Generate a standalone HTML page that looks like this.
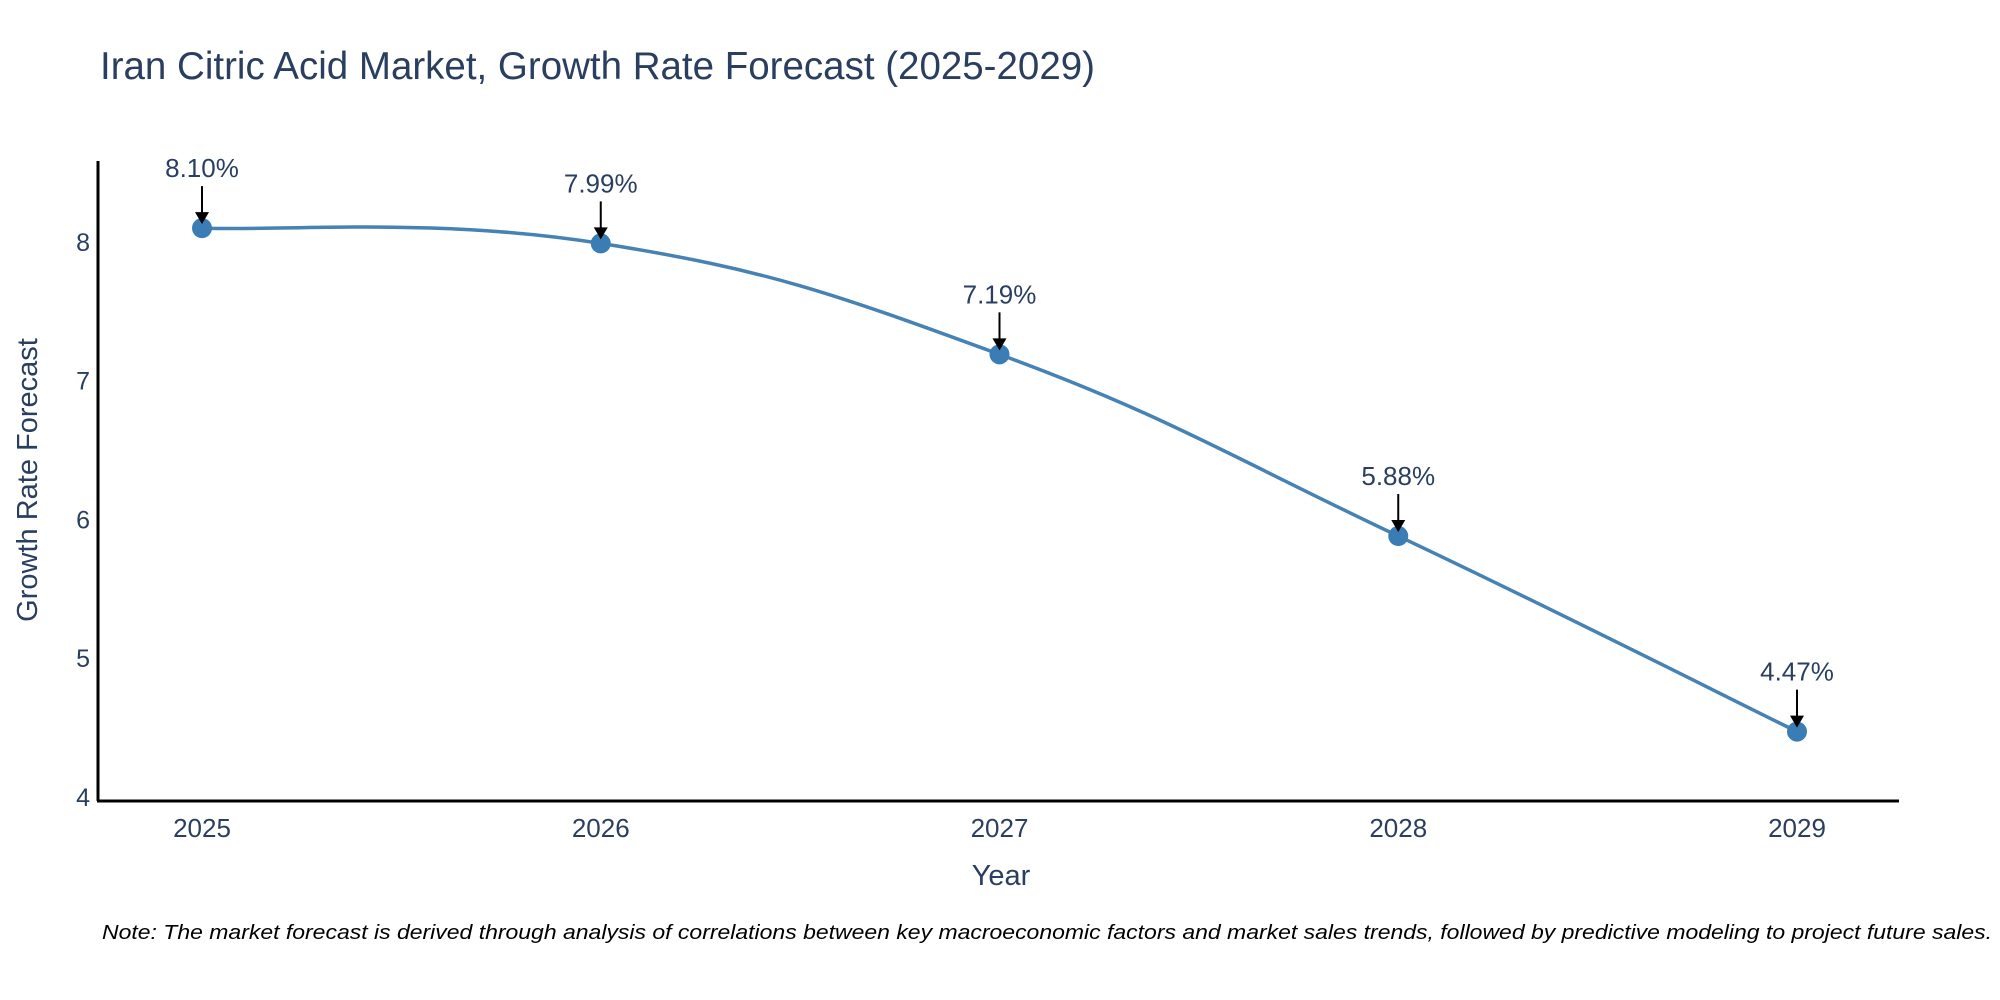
<!DOCTYPE html>
<html><head><meta charset="utf-8"><style>
html,body{margin:0;padding:0;background:#fff;}
svg{display:block;font-family:"Liberation Sans",sans-serif;}
</style></head><body>
<svg id="chart" width="2000" height="1000">
<text x="100" y="79" font-size="38.5" fill="#2a3f5f">Iran Citric Acid Market, Growth Rate Forecast (2025-2029)</text>
<g id="yticks"></g><g id="xticks"></g>
<path id="line" fill="none" stroke="#4682b4" stroke-width="3.5"></path>
<g id="marks"></g>
<line x1="98" y1="161" x2="98" y2="801" stroke="#000" stroke-width="3"/>
<line x1="97" y1="801" x2="1899" y2="801" stroke="#000" stroke-width="3"/>
<text x="1001" y="885" font-size="29" fill="#2a3f5f" text-anchor="middle">Year</text>
<text transform="translate(37,480) rotate(-90)" font-size="29" fill="#2a3f5f" text-anchor="middle">Growth Rate Forecast</text>
<text x="102" y="939" font-size="20" font-style="italic" fill="#000" textLength="1890" lengthAdjust="spacingAndGlyphs">Note: The market forecast is derived through analysis of correlations between key macroeconomic factors and market sales trends, followed by predictive modeling to project future sales.</text>
</svg>
<script>
const years = ["2025","2026","2027","2028","2029"];
const values = [8.10, 7.99, 7.19, 5.88, 4.47];
const labels = ["8.10%","7.99%","7.19%","5.88%","4.47%"];
const yTicks = [4,5,6,7,8];
const NS="http://www.w3.org/2000/svg";
const xs=i=>202+i*(1797-202)/(years.length-1);
const ys=v=>242+(8-v)*138.7;
function mk(t,a,p){const e=document.createElementNS(NS,t);for(const k in a)e.setAttribute(k,a[k]);p.appendChild(e);return e;}
const yt=document.getElementById('yticks');
yTicks.forEach(v=>{const t=mk('text',{x:90,y:ys(v)+9,'font-size':25,fill:'#2a3f5f','text-anchor':'end'},yt);t.textContent=v;

});
const xt=document.getElementById('xticks');
years.forEach((y,i)=>{const t=mk('text',{x:xs(i),y:837,'font-size':26,fill:'#2a3f5f','text-anchor':'middle'},xt);t.textContent=y;

});
const P=values.map((v,i)=>[xs(i),ys(v)]);
let d=`M${P[0][0]},${P[0][1]}`;const s=0.21;
for(let i=0;i<P.length-1;i++){const p0=P[Math.max(0,i-1)],p1=P[i],p2=P[i+1],p3=P[Math.min(P.length-1,i+2)];
d+=` C${p1[0]+(p2[0]-p0[0])*s},${p1[1]+(p2[1]-p0[1])*s} ${p2[0]-(p3[0]-p1[0])*s},${p2[1]-(p3[1]-p1[1])*s} ${p2[0]},${p2[1]}`;}
document.getElementById('line').setAttribute('d',d);
const g=document.getElementById('marks');
P.forEach((p,i)=>{
const c=mk('circle',{cx:p[0],cy:p[1],r:10,fill:'#3a7db5'},g);


const l=mk('line',{x1:p[0],y1:p[1]-42,x2:p[0],y2:p[1]-14,stroke:'#000','stroke-width':2},g);


const h=mk('path',{d:`M${p[0]-7},${p[1]-16} L${p[0]+7},${p[1]-16} L${p[0]},${p[1]-4} Z`,fill:'#000'},g);


const t=mk('text',{x:p[0],y:p[1]-51,'font-size':26,fill:'#2a3f5f','text-anchor':'middle'},g);t.textContent=labels[i];


});
</script>
</body></html>
